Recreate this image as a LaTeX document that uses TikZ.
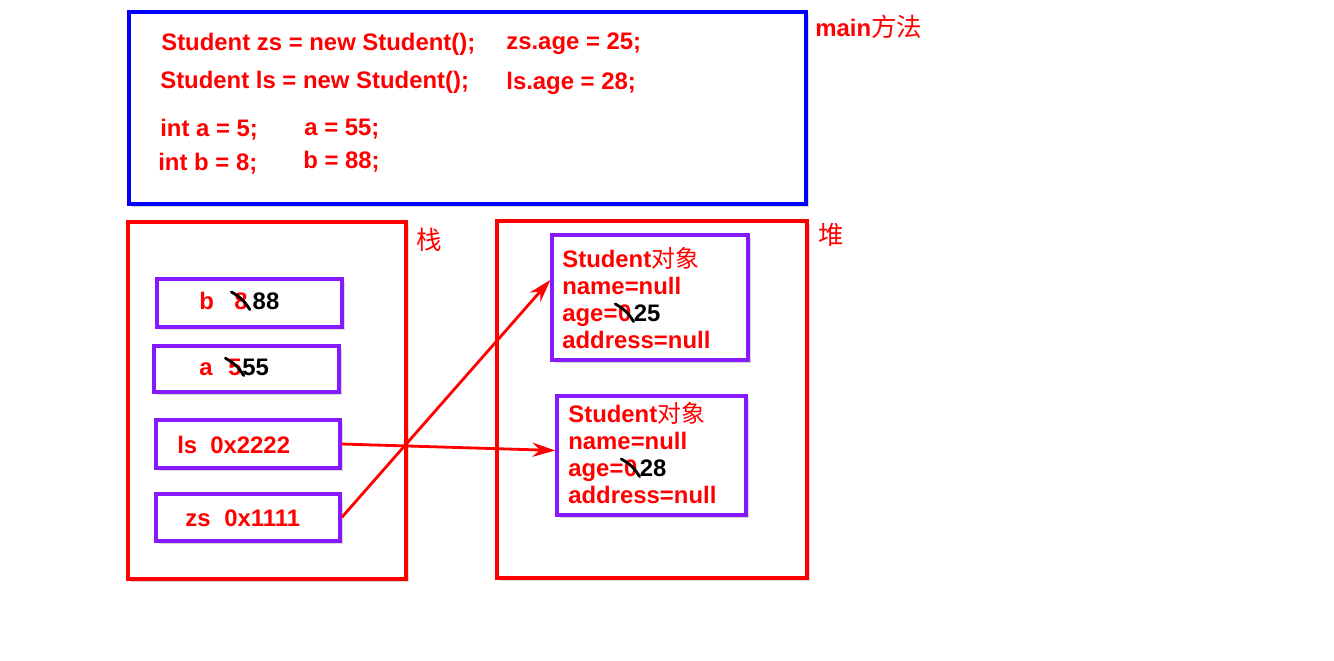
\documentclass[tikz,border=0pt]{standalone}
\usepackage{fontspec}
\setmainfont{Liberation Sans}
\newfontfamily\cjk{Noto Sans CJK SC}
\usetikzlibrary{arrows.meta, positioning, fit, shadows}

\definecolor{cellpurple}{RGB}{135,25,255}
\tikzset{
  frame/.style={draw, fill=white, line width=1.9pt, inner sep=0pt,
    drop shadow={shadow xshift=1.5pt, shadow yshift=-1.5pt, opacity=.3}},
  mainbox/.style={frame, draw=blue},
  areabox/.style={frame, draw=red},
  cellbox/.style={frame, draw=cellpurple},
  txt/.style={anchor=base west, inner sep=0pt, text=red,
    font=\bfseries\fontsize{13.6}{15}\selectfont},
  val/.style={txt, text=black},
  cn/.style={anchor=base west, inner sep=0pt, text=red,
    font=\cjk\fontsize{14.5}{16}\selectfont},
  strike/.style={line width=1.6pt, line cap=round},
  ptr/.style={red, line width=1.6pt, -{Stealth[length=13pt,width=8pt]}}
}

\begin{document}
\begin{tikzpicture}[x=0.02cm, y=-0.02cm]
\useasboundingbox (0,0) rectangle (1334,660);

% main method
\node[mainbox, fit={(129,12) (806,204)}] (main) {};
\node[cn] (mainlbl) at (815,36) {{\bfseries\fontspec{Liberation Sans}\fontsize{13.6}{15}\selectfont main}方法};
\node[txt] (l1) at (161,50) {Student zs = new Student();};
\node[txt] (l2) at (506,49) {zs.age = 25;};
\node[txt] (l3) at (160,88) {Student ls = new Student();};
\node[txt] (l4) at (506,89) {ls.age = 28;};
\node[txt] (l5) at (160,136) {int a = 5;};
\node[txt] (l6) at (304,135) {a = 55;};
\node[txt] (l7) at (158,170) {int b = 8;};
\node[txt] (l8) at (303,168) {b = 88;};

% stack and heap
\node[areabox, fit={(128,222) (406,579)}] (stack) {};
\node[cn] (stacklbl) at (416,249) {栈};
\node[areabox, fit={(497,221) (807,578)}] (heap) {};
\node[cn] (heaplbl) at (818,244) {堆};

% stack cells
\node[cellbox, fit={(157,279) (342,327)}] (cb) {};
\node[cellbox, fit={(154,346) (339,392)}] (ca) {};
\node[cellbox, fit={(156,420) (340,468)}] (cls) {};
\node[cellbox, fit={(156,494) (340,541)}] (czs) {};

\node[txt] (bname) at (199,309) {b};
\node[txt] (bold) at (234,309) {8};
\node[val] (bnew) at ([xshift=2.5pt]bold.base east) {88};
\node[txt] (aname) at (199,375) {a};
\node[txt] (aold) at (228,375) {5};
\node[val] (anew) at (aold.base east) {55};
\node[txt] (lsname) at (177,453) {ls};
\node[txt] (lsval) at (210,453) {0x2222};
\node[txt] (zsname) at (185,526) {zs};
\node[txt] (zsval) at (224,526) {0x1111};

% heap objects
\node[cellbox, fit={(552,235) (748,360)}] (obj1) {};
\node[txt] (o1a) at (562,267) {Student{\cjk\mdseries 对象}};
\node[txt] (o1b) at (562,294) {name=null};
\node[txt] (o1c) at (562,321) {age=};
\node[txt] (o1old) at (o1c.base east) {0};
\node[val] (o1new) at ([xshift=1pt]o1old.base east) {25};
\node[txt] (o1d) at (562,348) {address=null};

\node[cellbox, fit={(557,396) (746,515)}] (obj2) {};
\node[txt] (o2a) at (568,422) {Student{\cjk\mdseries 对象}};
\node[txt] (o2b) at (568,449) {name=null};
\node[txt] (o2c) at (568,476) {age=};
\node[txt] (o2old) at (o2c.base east) {0};
\node[val] (o2new) at ([xshift=1pt]o2old.base east) {28};
\node[txt] (o2d) at (568,503) {address=null};

% crossed-out old values
\foreach \d in {bold, aold, o1old, o2old}
  \draw[strike] ([xshift=-1.5pt]\d.north west) to[bend left=15] ([xshift=1pt]\d.south east);

% references
\draw[ptr] (czs.east) -- (obj1.170);
\draw[ptr] (cls.east) -- (obj2.177);
\end{tikzpicture}
\end{document}
